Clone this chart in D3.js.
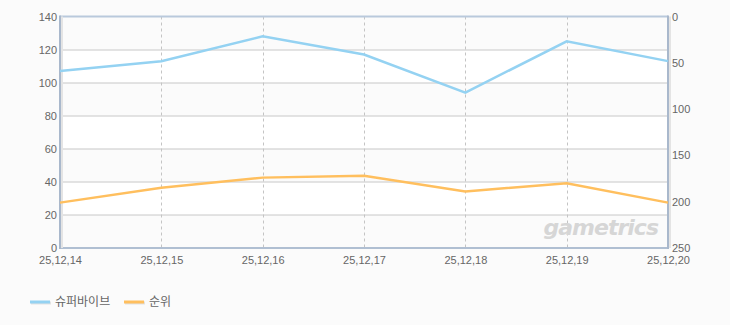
<!DOCTYPE html>
<html>
<head>
<meta charset="utf-8">
<script src="https://cdn.jsdelivr.net/npm/d3@7"></script>
<style>
  body { margin: 0; background: #fbfbfb; }
  svg { display: block; font-family: 'Liberation Sans', 'Noto Sans CJK KR', sans-serif; }
</style>
</head>
<body>
<svg id="chart" width="730" height="325"></svg>
<script>
const dates = ['25,12,14', '25,12,15', '25,12,16', '25,12,17', '25,12,18', '25,12,19', '25,12,20'];
const playValues = [107, 113, 128, 117, 94, 125, 113];
const rankValues = [201, 185, 174, 172, 189, 180, 201];
const leftTicks = [0, 20, 40, 60, 80, 100, 120, 140];
const rightTicks = [0, 50, 100, 150, 200, 250];
const seriesNames = ['슈퍼바이브', '순위'];
const seriesColors = ['#94d2f2', '#ffbf5e'];

const svg = d3.select('#chart');
const margin = {top: 16.5, right: 62, bottom: 77, left: 60};
const width = 730 - margin.left - margin.right;
const height = 325 - margin.top - margin.bottom;
const g = svg.append('g').attr('transform', 'translate(' + margin.left + ',' + margin.top + ')');

const x = d3.scalePoint().domain(dates).range([0, width]);
const yLeft = d3.scaleLinear().domain([0, 140]).range([height, 0]);
const yRight = d3.scaleLinear().domain([0, 250]).range([0, height]);

// alternating bands
g.selectAll('.band')
  .data(d3.pairs(leftTicks))
  .enter().append('rect')
  .attr('x', 0)
  .attr('width', width)
  .attr('y', d => yLeft(d[1]))
  .attr('height', d => yLeft(d[0]) - yLeft(d[1]))
  .attr('fill', (d, i) => i % 2 === 0 ? '#fbfbfb' : '#ffffff');

// horizontal grid
g.selectAll('.hgrid')
  .data(leftTicks.slice(1, -1))
  .enter().append('line')
  .attr('x1', 0).attr('x2', width)
  .attr('y1', d => Math.round(yLeft(d)) + 0.5)
  .attr('y2', d => Math.round(yLeft(d)) + 0.5)
  .attr('stroke', '#c8c8c8');

// vertical dashed grid
g.selectAll('.vgrid')
  .data(dates.slice(1, -1))
  .enter().append('line')
  .attr('x1', d => Math.round(x(d)) + 0.5)
  .attr('x2', d => Math.round(x(d)) + 0.5)
  .attr('y1', 0).attr('y2', height)
  .attr('stroke', '#c4c4c4')
  .attr('stroke-dasharray', '3,3');

// frame
g.append('line').attr('x1', 0).attr('x2', width).attr('y1', 0).attr('y2', 0)
  .attr('stroke', '#b9c9dc').attr('stroke-width', 2);
g.append('line').attr('x1', 0).attr('x2', width).attr('y1', height).attr('y2', height)
  .attr('stroke', '#b0bfd2').attr('stroke-width', 2);
g.append('line').attr('x1', 2).attr('x2', 2).attr('y1', 0).attr('y2', height)
  .attr('stroke', '#e4e4e4').attr('stroke-width', 2);
g.append('line').attr('x1', 0).attr('x2', 0).attr('y1', -1).attr('y2', height + 1)
  .attr('stroke', '#a9b8cc').attr('stroke-width', 2);
g.append('line').attr('x1', width + 2).attr('x2', width + 2).attr('y1', 0).attr('y2', height)
  .attr('stroke', '#e4e4e4').attr('stroke-width', 2);
g.append('line').attr('x1', width).attr('x2', width).attr('y1', -1).attr('y2', height + 1)
  .attr('stroke', '#a9b8cc').attr('stroke-width', 2);

// watermark
g.append('text')
  .attr('x', width - 10)
  .attr('y', height - 13)
  .attr('text-anchor', 'end')
  .attr('font-family', 'DejaVu Sans, sans-serif')
  .attr('font-style', 'italic')
  .attr('font-weight', 'bold')
  .attr('font-size', 22)
  .attr('fill', '#d6d6d6')
  .attr('letter-spacing', -1)
  .text('gametrics');

// axes
const leftAxis = g.append('g')
  .call(d3.axisLeft(yLeft).tickValues(leftTicks).tickSize(0).tickPadding(3));
const rightAxis = g.append('g')
  .attr('transform', 'translate(' + width + ',0)')
  .call(d3.axisRight(yRight).tickValues(rightTicks).tickSize(0).tickPadding(4));
const bottomAxis = g.append('g')
  .attr('transform', 'translate(0,' + height + ')')
  .call(d3.axisBottom(x).tickSize(0).tickPadding(8));
[leftAxis, rightAxis, bottomAxis].forEach(a => {
  a.select('.domain').remove();
  a.selectAll('text').attr('fill', '#666').attr('font-size', 11)
    .attr('font-family', 'Liberation Sans, sans-serif');
});

// lines
const linePlay = d3.line().x((d, i) => x(dates[i])).y(d => yLeft(d));
const lineRank = d3.line().x((d, i) => x(dates[i])).y(d => yRight(d));
g.append('path').datum(playValues)
  .attr('d', linePlay).attr('fill', 'none')
  .attr('stroke', seriesColors[0]).attr('stroke-width', 2.5);
g.append('path').datum(rankValues)
  .attr('d', lineRank).attr('fill', 'none')
  .attr('stroke', seriesColors[1]).attr('stroke-width', 2.5);

// legend
const legendX = [30, 124];
const legend = svg.selectAll('.legend')
  .data(seriesNames)
  .enter().append('g')
  .attr('transform', (d, i) => 'translate(' + legendX[i] + ',300)');
legend.append('line')
  .attr('x1', 1).attr('x2', 21).attr('y1', 3).attr('y2', 3)
  .attr('stroke', '#e2e2e2').attr('stroke-width', 3);
legend.append('line')
  .attr('x1', 0).attr('x2', 20).attr('y1', 2).attr('y2', 2)
  .attr('stroke', (d, i) => seriesColors[i]).attr('stroke-width', 3);
legend.append('text')
  .attr('x', 25).attr('y', 2)
  .attr('dy', '0.35em')
  .attr('font-family', 'Noto Sans CJK KR, sans-serif')
  .attr('font-size', 12)
  .attr('fill', '#666')
  .text(d => d);
</script>
</body>
</html>
